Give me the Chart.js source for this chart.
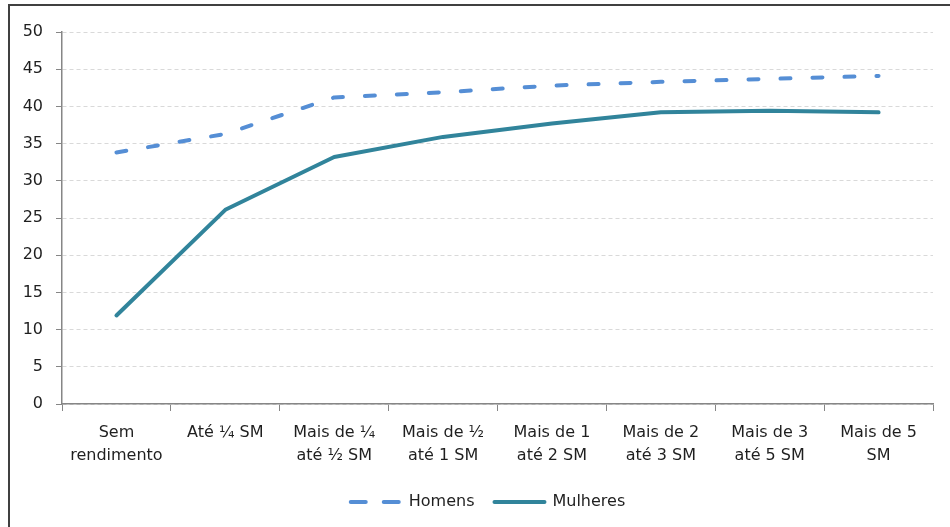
<!DOCTYPE html>
<html>
<head>
<meta charset="utf-8">
<script src="https://cdn.jsdelivr.net/npm/chart.js@4/dist/chart.umd.min.js"></script>
<style>
  html, body { margin: 0; padding: 0; background: #fff; overflow: hidden; }
  #frame { position: absolute; left: 8px; top: 4px; width: 1000px; height: 600px; border: 2px solid #404040; }
  #wrap { position: absolute; left: 0; top: 0; width: 966px; height: 527px; }
</style>
</head>
<body>
<div id="frame"></div>
<div id="wrap"><canvas id="chart" width="966" height="527"></canvas></div>
<script>
// Categories (faixas de rendimento) and values
const categories = [
    ['Sem', 'rendimento'],
    'Até ¼ SM',
    ['Mais de ¼', 'até ½ SM'],
    ['Mais de ½', 'até 1 SM'],
    ['Mais de 1', 'até 2 SM'],
    ['Mais de 2', 'até 3 SM'],
    ['Mais de 3', 'até 5 SM'],
    ['Mais de 5', 'SM']
];
const homens = [33.8, 36.3, 41.2, 41.9, 42.8, 43.3, 43.7, 44.1];
const mulheres = [11.9, 26.1, 33.2, 35.9, 37.7, 39.2, 39.4, 39.2];
const yTicks = [0, 5, 10, 15, 20, 25, 30, 35, 40, 45, 50];

const fontFamily = '"DejaVu Sans", sans-serif';
const axisGray = '#868686';
const textColor = '#1f1f1f';

const ctx = document.getElementById('chart').getContext('2d');

const chart = new Chart(ctx, {
    type: 'line',
    data: {
        labels: categories,
        datasets: [
            {
                label: 'Homens',
                data: homens,
                borderColor: '#558ED5',
                backgroundColor: '#558ED5',
                borderWidth: 4,
                borderDash: [10, 22],
                borderCapStyle: 'round',
                borderJoinStyle: 'round',
                pointRadius: 0,
                tension: 0,
                fill: false
            },
            {
                label: 'Mulheres',
                data: mulheres,
                borderColor: '#31849B',
                backgroundColor: '#31849B',
                borderWidth: 4,
                borderCapStyle: 'round',
                borderJoinStyle: 'round',
                pointRadius: 0,
                tension: 0,
                fill: false
            }
        ]
    },
    options: {
        responsive: false,
        animation: false,
        layout: {
            padding: { left: 10, right: 0, top: 32, bottom: 7 }
        },
        plugins: {
            tooltip: { enabled: false },
            legend: {
                position: 'bottom',
                labels: {
                    usePointStyle: true,
                    pointStyle: 'line',
                    pointStyleWidth: 50,
                    boxHeight: 16,
                    padding: 20,
                    color: textColor,
                    font: { family: fontFamily, size: 16 },
                    generateLabels: chart => {
                        const items = Chart.defaults.plugins.legend.labels.generateLabels(chart);
                        items.forEach(item => {
                            const ds = chart.data.datasets[item.datasetIndex];
                            item.lineCap = 'round';
                            item.lineWidth = 4;
                            item.lineDash = ds.borderDash ? [15, 18] : [];
                        });
                        return items;
                    }
                }
            }
        },
        scales: {
            x: {
                offset: true,
                grid: {
                    offset: true,
                    drawOnChartArea: false,
                    drawTicks: true,
                    tickLength: 7,
                    tickColor: axisGray
                },
                border: { display: true, color: axisGray, width: 1.5 },
                ticks: {
                    color: textColor,
                    padding: 10,
                    maxRotation: 0,
                    autoSkip: false,
                    font: { family: fontFamily, size: 16, lineHeight: 1.45 }
                },
                afterFit: scale => { scale.height = 70; }
            },
            y: {
                min: 0,
                max: 50,
                afterBuildTicks: scale => {
                    scale.ticks = yTicks.map(v => ({ value: v }));
                },
                grid: {
                    color: '#D9D9D9',
                    lineWidth: 1,
                    tickColor: axisGray,
                    tickLength: 6,
                    tickBorderDash: []
                },
                border: { display: true, color: axisGray, width: 1.5, dash: [4, 3] },
                ticks: {
                    color: textColor,
                    padding: 13,
                    font: { family: fontFamily, size: 16 }
                },
                afterFit: scale => { scale.width = 52; }
            },
            y2: {
                position: 'right',
                display: true,
                grid: { display: false },
                border: { display: false },
                ticks: { display: false },
                afterFit: scale => { scale.width = 33; }
            }
        }
    }
});
</script>
</body>
</html>
